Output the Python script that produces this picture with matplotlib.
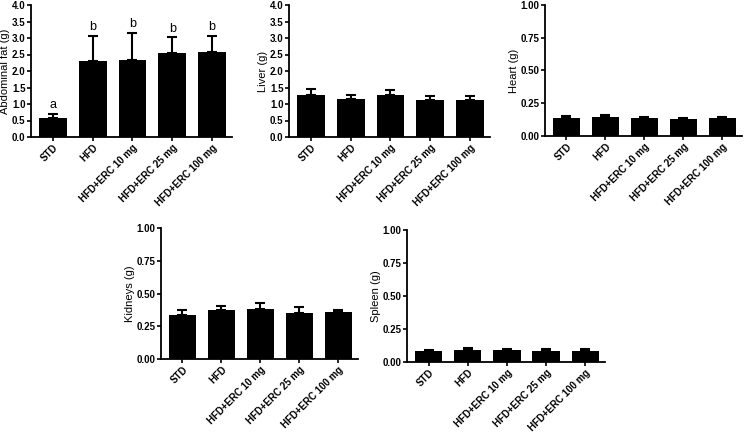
import numpy as np
import matplotlib
matplotlib.use("Agg")
import matplotlib.pyplot as plt

plt.rcParams['font.family'] = ['Liberation Sans', 'DejaVu Sans']

groups = ["STD", "HFD", "HFD+ERC 10 mg", "HFD+ERC 25 mg", "HFD+ERC 100 mg"]

fat = [0.57, 2.31, 2.33, 2.56, 2.58]
fat_err = [0.13, 0.76, 0.83, 0.46, 0.49]
fat_letters = ["a", "b", "b", "b", "b"]

liver = [1.27, 1.15, 1.27, 1.13, 1.13]
liver_err = [0.18, 0.12, 0.16, 0.12, 0.10]

heart = [0.14, 0.145, 0.14, 0.13, 0.14]
heart_err = [0.01, 0.015, 0.008, 0.006, 0.008]

kidneys = [0.336, 0.374, 0.384, 0.354, 0.359]
kidneys_err = [0.035, 0.033, 0.045, 0.046, 0.015]

spleen = [0.082, 0.090, 0.088, 0.085, 0.085]
spleen_err = [0.011, 0.016, 0.010, 0.015, 0.015]

W, H = 745, 434
fig = plt.figure(figsize=(W / 100, H / 100), dpi=100)


def make_ax(l, r, t, b):
    return fig.add_axes([l / W, 1 - b / H, (r - l) / W, (b - t) / H])


def panel(ax, vals, errs, ylabel, ymax, step, fmt, letters=None):
    x = np.arange(len(groups))
    ax.bar(x, vals, width=0.7, color="black", zorder=2)
    ax.errorbar(x, vals, yerr=[np.zeros(len(vals)), errs], fmt="none",
                ecolor="black", elinewidth=1.5, capsize=3.5, capthick=1.5, zorder=1)
    ax.set_xlim(-0.55, 4.5)
    ax.set_ylim(0, ymax)
    ticks = np.arange(0, ymax + step / 2, step)
    ax.set_yticks(ticks)
    ax.set_yticklabels([fmt.format(v) for v in ticks], fontsize=7, fontweight="bold")
    ax.set_xticks(x)
    ax.set_xticklabels(groups, rotation=45, ha="right", rotation_mode="anchor",
                       fontsize=7, fontweight="bold")
    ax.set_ylabel(ylabel, fontsize=8, labelpad=1)
    for s in ["top", "right"]:
        ax.spines[s].set_visible(False)
    for s in ["left", "bottom"]:
        ax.spines[s].set_linewidth(1.3)
    ax.tick_params(axis="both", width=1.2, length=3, pad=1)
    if letters:
        for xi, v, e, t in zip(x, vals, errs, letters):
            ax.text(xi, v + e + 0.02 * ymax, t, ha="center", va="bottom", fontsize=9)


ax1 = make_ax(31, 232, 5, 137)
panel(ax1, fat, fat_err, "Abdominal fat (g)", 4.0, 0.5, "{:.1f}", fat_letters)

ax2 = make_ax(289, 490, 5, 137)
panel(ax2, liver, liver_err, "Liver (g)", 4.0, 0.5, "{:.1f}")

ax3 = make_ax(545, 742, 5, 136)
panel(ax3, heart, heart_err, "Heart (g)", 1.0, 0.25, "{:.2f}")

ax4 = make_ax(161, 358, 228, 359)
panel(ax4, kidneys, kidneys_err, "Kidneys (g)", 1.0, 0.25, "{:.2f}")

ax5 = make_ax(407, 605, 230, 362)
panel(ax5, spleen, spleen_err, "Spleen (g)", 1.0, 0.25, "{:.2f}")

fig.savefig("out.png", dpi=100)
